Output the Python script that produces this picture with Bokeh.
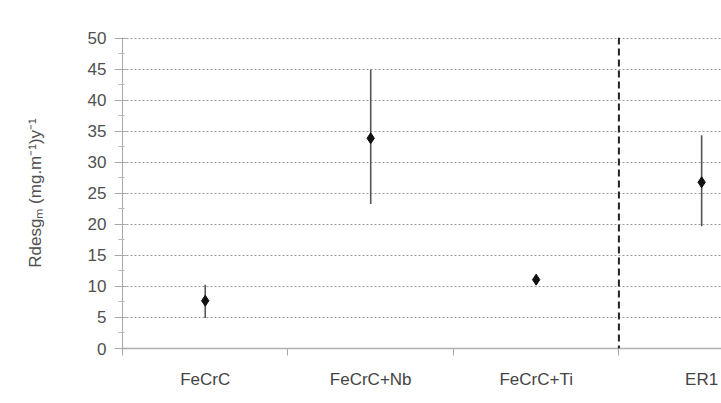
from bokeh.plotting import figure
from bokeh.models import Range1d, FixedTicker, Span, ColumnDataSource
from bokeh.embed import file_html
from bokeh.resources import INLINE

categories = ["FeCrC", "FeCrC+Nb", "FeCrC+Ti", "ER1"]
mean_vals = [7.7, 33.9, 11.1, 26.8]
low_vals = [4.9, 23.3, 10.4, 19.7]
high_vals = [10.3, 45.0, 11.9, 34.4]
y_ticks = [0, 5, 10, 15, 20, 25, 30, 35, 40, 45, 50]

xs = list(range(len(categories)))
src = ColumnDataSource(dict(x=xs, y=mean_vals, lo=low_vals, hi=high_vals))

p = figure(width=721, height=403, output_backend="svg", toolbar_location=None,
           x_range=Range1d(-0.5, 3.12), y_range=Range1d(0, 50.15),
           min_border_left=122, min_border_right=0, min_border_top=37, min_border_bottom=55)
p.outline_line_color = None
p.background_fill_color = "white"
p.border_fill_color = "white"

# grid
p.xgrid.grid_line_color = None
p.ygrid.ticker = FixedTicker(ticks=y_ticks[1:])
p.ygrid.grid_line_color = "#9a9a9a"
p.ygrid.grid_line_dash = "2 2"
p.ygrid.grid_line_width = 1

# y axis
p.yaxis.ticker = FixedTicker(ticks=y_ticks, minor_ticks=[v + 2.5 for v in y_ticks[:-1]])
p.yaxis.axis_line_color = "#a8a8a8"
p.yaxis.major_tick_line_color = "#a8a8a8"
p.yaxis.minor_tick_line_color = "#b8b8b8"
p.yaxis.major_tick_out = 8
p.yaxis.major_tick_in = 4
p.yaxis.minor_tick_out = 4
p.yaxis.minor_tick_in = 2
p.yaxis.major_label_standoff = 8
p.yaxis.major_label_text_font = "Liberation Sans"
p.yaxis.major_label_text_font_size = "17px"
p.yaxis.major_label_text_color = "#505050"
p.yaxis.axis_label = "Rdesgₘ (mg.m⁻¹)y⁻¹"
p.yaxis.axis_label_text_font = "Liberation Sans"
p.yaxis.axis_label_text_font_style = "normal"
p.yaxis.axis_label_text_font_size = "17px"
p.yaxis.axis_label_text_color = "#505050"
p.yaxis.axis_label_standoff = 40

# x axis
p.xaxis.ticker = FixedTicker(ticks=xs, minor_ticks=[-0.5, 0.5, 1.5, 2.5])
p.xaxis.major_label_overrides = {i: c for i, c in enumerate(categories)}
p.xaxis.axis_line_color = "#b0b0b0"
p.xaxis.axis_line_width = 1.5
p.xaxis.major_tick_line_color = None
p.xaxis.minor_tick_line_color = "#a8a8a8"
p.xaxis.minor_tick_out = 7
p.xaxis.minor_tick_in = 0
p.xaxis.major_label_standoff = 14
p.xaxis.major_label_text_font = "Liberation Sans"
p.xaxis.major_label_text_font_size = "17px"
p.xaxis.major_label_text_color = "#444444"

# separator
p.add_layout(Span(location=2.5, dimension="height", line_color="#222222",
                  line_width=2, line_dash="7 4"))

# error bars and points
p.segment(x0="x", y0="lo", x1="x", y1="hi", source=src, line_color="#555555", line_width=1.6)
p.scatter(x="x", y="y", source=src, marker="diamond", size=11,
          fill_color="#111111", line_color="#111111")

open("out.html", "w").write(file_html(p, INLINE))
